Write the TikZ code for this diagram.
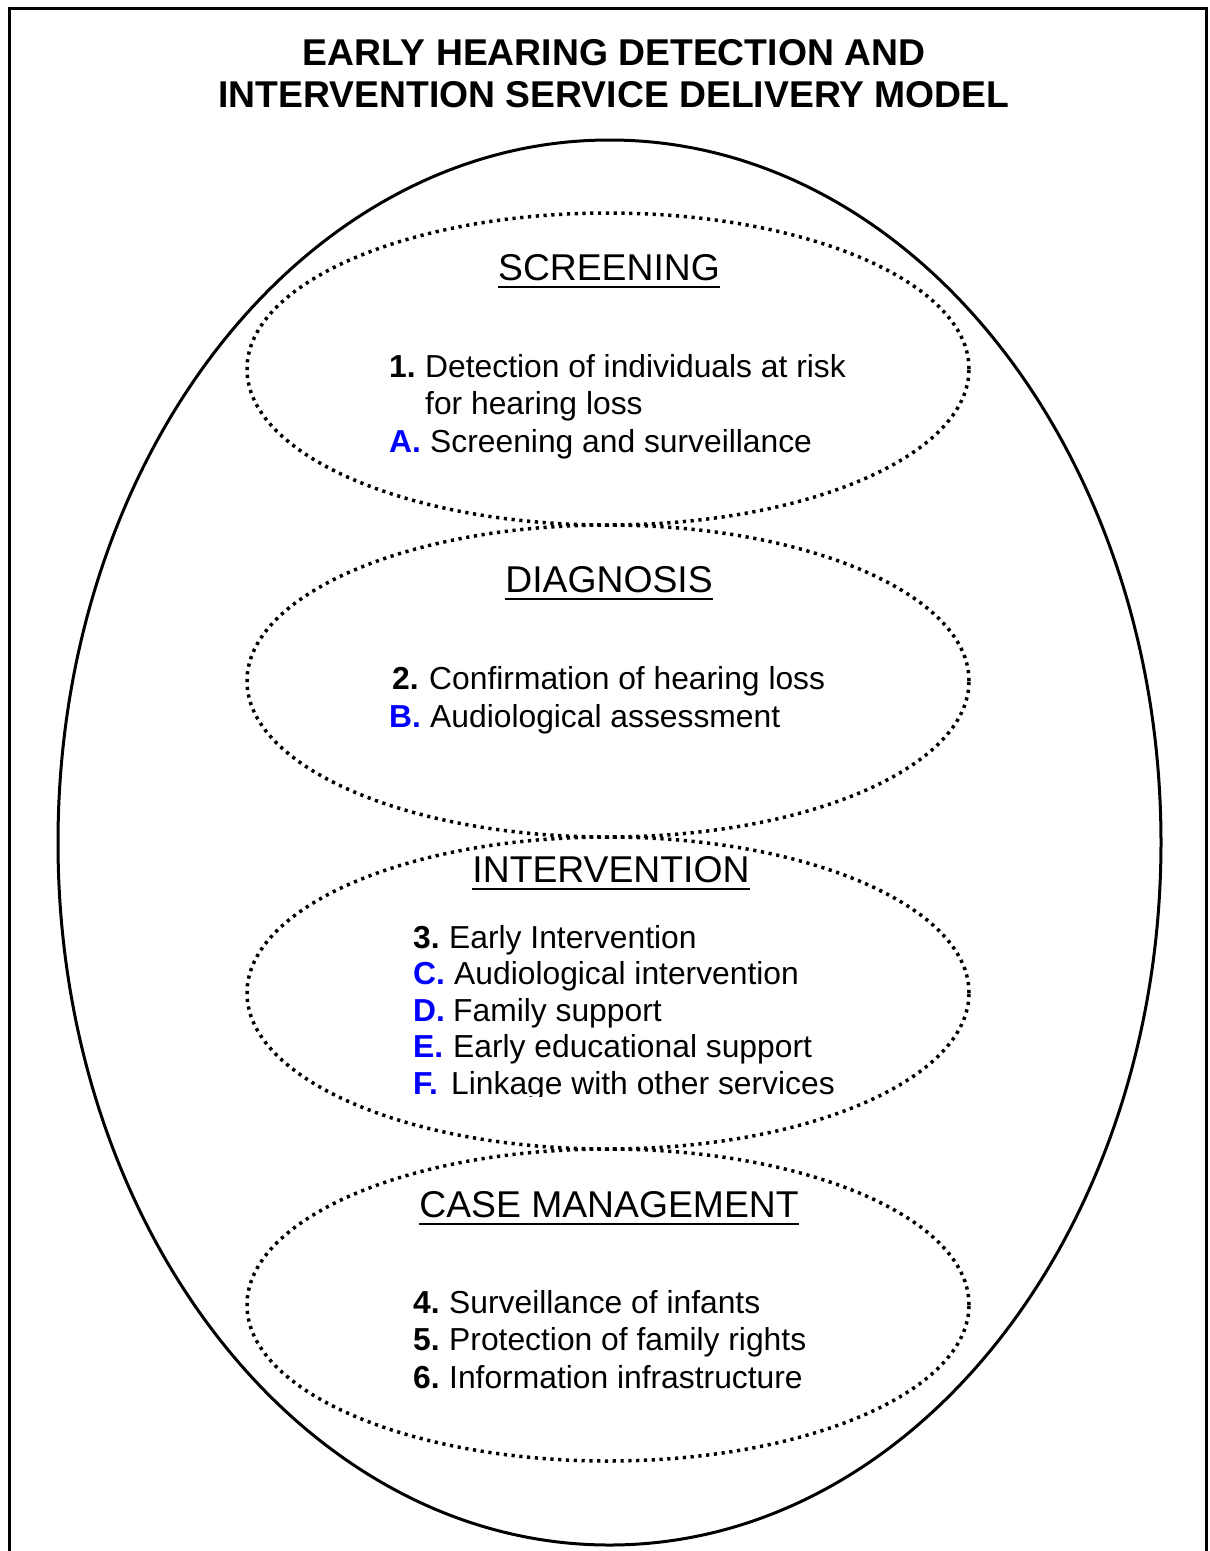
\documentclass[tikz,border=0pt]{standalone}
\usepackage{fontspec}
\setmainfont{Liberation Sans}
\usepackage{xcolor}
\definecolor{letter}{rgb}{0,0,1}

\begin{document}
\begin{tikzpicture}[x=1pt,y=-1pt,
		every node/.style={inner sep=0pt,anchor=base west},
		ring/.style={line width=3.5pt,dash pattern=on 3.2pt off 4.6pt},
		title/.style={anchor=base,font=\fontsize{37.3}{44}\selectfont\bfseries},
		head/.style={anchor=base,font=\fontsize{37.3}{44}\selectfont},
		body/.style={font=\fontsize{31.8}{37}\selectfont},
		num/.style={font=\fontsize{31.8}{37}\selectfont\bfseries},
		abc/.style={num,text=letter}]
			\useasboundingbox (0,0) rectangle (1210,1551);
			\draw[line width=3pt] (9.5,1570) -- (9.5,8.5) -- (1206,8.5) -- (1206,1570);
			
			\coordinate (outer) at (609.5,842.5);
			\coordinate (c1) at (608,369);
			\coordinate (c2) at (608,681);
			\coordinate (c3) at (608,993);
			\coordinate (c4) at (608,1305);
			
			\node[title] (title1) at (614,65) {EARLY HEARING DETECTION AND};
			\node[title] (title2) at (614,107) {INTERVENTION SERVICE DELIVERY MODEL};
			
			\draw[line width=3pt] (outer) ellipse [x radius=551.5pt, y radius=702.5pt];
			\foreach \c in {c1,c2,c3,c4}
				\draw[ring] (\c) ellipse [x radius=361pt, y radius=156pt];
			
			\node[head] (h1) at (609,280) {SCREENING};
			\node[head] (h2) at (609,592) {DIAGNOSIS};
			\node[head] (h3) at (611,882) {INTERVENTION};
			\node[head] (h4) at (609,1217) {CASE MANAGEMENT};
			\foreach \h in {h1,h2,h3,h4}
				\draw[line width=2.5pt] ([yshift=-7pt]\h.base west) -- ([yshift=-7pt]\h.base east);
			
			% screening
			\node[num] (n1) at (389,377) {1.};
			\node[body] (t1) at (425,377) {Detection of individuals at risk};
			\node[body] (t1b) at (425,414) {for hearing loss};
			\node[abc] (lA) at (389,452) {A.};
			\node[body] (tA) at (430,452) {Screening and surveillance};
			
			% diagnosis
			\node[num] (n2) at (392,689) {2.};
			\node[body] (t2) at (429,689) {Confirmation of hearing loss};
			\node[abc] (lB) at (389,727) {B.};
			\node[body] (tB) at (430,727) {Audiological assessment};
			
			% intervention
			\node[num] (n3) at (413,948) {3.};
			\node[body] (t3) at (449,948) {Early Intervention};
			\node[abc] (lC) at (413,984.5) {C.};
			\node[body] (tC) at (454,984.5) {Audiological intervention};
			\node[abc] (lD) at (413,1021) {D.};
			\node[body] (tD) at (453,1021) {Family support};
			\node[abc] (lE) at (413,1057.5) {E.};
			\node[body] (tE) at (453,1057.5) {Early educational support};
			\begin{scope}
				\clip (400,1060) rectangle (900,1096.5);
				\node[abc] (lF) at (413,1094) {F.};
				\node[body] (tF) at (451,1094) {Linkage with other services};
			\end{scope}
			
			% case management
			\node[num] (n4) at (413,1313) {4.};
			\node[body] (t4) at (449,1313) {Surveillance of infants};
			\node[num] (n5) at (413,1350.5) {5.};
			\node[body] (t5) at (449,1350.5) {Protection of family rights};
			\node[num] (n6) at (413,1388) {6.};
			\node[body] (t6) at (449,1388) {Information infrastructure};
		\end{tikzpicture}
\end{document}
